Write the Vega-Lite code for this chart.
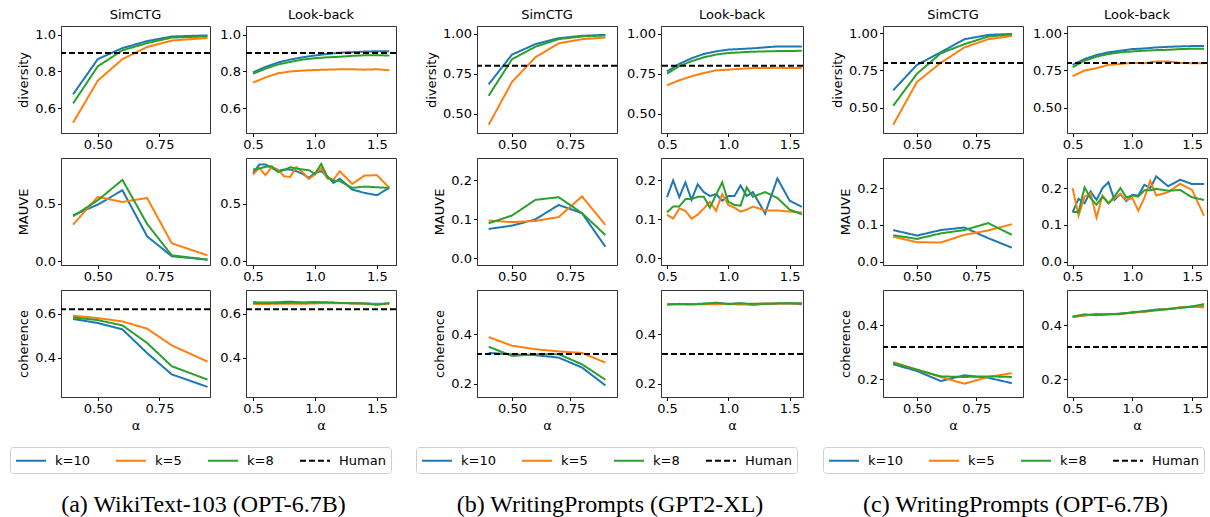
{
"$schema":"https://vega.github.io/schema/vega-lite/v6.json",
"background":"white",
"padding":{"left":9,"top":8,"right":0,"bottom":0},
"datasets":{
"d":[
{"g":"a","p":"S","m":"div","x":0.4,"k=10":0.676,"k=5":0.522,"k=8":0.627},
{"g":"a","p":"S","m":"div","x":0.5,"k=10":0.867,"k=5":0.75,"k=8":0.828},
{"g":"a","p":"S","m":"div","x":0.6,"k=10":0.927,"k=5":0.867,"k=8":0.915},
{"g":"a","p":"S","m":"div","x":0.7,"k=10":0.965,"k=5":0.933,"k=8":0.954},
{"g":"a","p":"S","m":"div","x":0.8,"k=10":0.99,"k=5":0.968,"k=8":0.984},
{"g":"a","p":"S","m":"div","x":0.945,"k=10":0.996,"k=5":0.982,"k=8":0.991},
{"g":"a","p":"L","m":"div","x":0.5,"k=10":0.795,"k=5":0.74,"k=8":0.788},
{"g":"a","p":"L","m":"div","x":0.6,"k=10":0.825,"k=5":0.768,"k=8":0.815},
{"g":"a","p":"L","m":"div","x":0.7,"k=10":0.848,"k=5":0.79,"k=8":0.838},
{"g":"a","p":"L","m":"div","x":0.8,"k=10":0.865,"k=5":0.8,"k=8":0.852},
{"g":"a","p":"L","m":"div","x":0.9,"k=10":0.877,"k=5":0.805,"k=8":0.865},
{"g":"a","p":"L","m":"div","x":1.0,"k=10":0.887,"k=5":0.808,"k=8":0.872},
{"g":"a","p":"L","m":"div","x":1.1,"k=10":0.895,"k=5":0.81,"k=8":0.877},
{"g":"a","p":"L","m":"div","x":1.2,"k=10":0.902,"k=5":0.812,"k=8":0.88},
{"g":"a","p":"L","m":"div","x":1.3,"k=10":0.905,"k=5":0.812,"k=8":0.885},
{"g":"a","p":"L","m":"div","x":1.4,"k=10":0.908,"k=5":0.81,"k=8":0.888},
{"g":"a","p":"L","m":"div","x":1.5,"k=10":0.91,"k=5":0.812,"k=8":0.888},
{"g":"a","p":"L","m":"div","x":1.6,"k=10":0.91,"k=5":0.807,"k=8":0.887},
{"g":"a","p":"S","m":"mau","x":0.4,"k=10":0.401,"k=5":0.32,"k=8":0.392},
{"g":"a","p":"S","m":"mau","x":0.5,"k=10":0.494,"k=5":0.561,"k=8":0.532},
{"g":"a","p":"S","m":"mau","x":0.6,"k=10":0.619,"k=5":0.517,"k=8":0.709},
{"g":"a","p":"S","m":"mau","x":0.7,"k=10":0.218,"k=5":0.552,"k=8":0.326},
{"g":"a","p":"S","m":"mau","x":0.8,"k=10":0.044,"k=5":0.157,"k=8":0.052},
{"g":"a","p":"S","m":"mau","x":0.945,"k=10":0.015,"k=5":0.052,"k=8":0.015},
{"g":"a","p":"L","m":"mau","x":0.5,"k=10":0.77,"k=5":0.756,"k=8":0.8},
{"g":"a","p":"L","m":"mau","x":0.55,"k=10":0.843,"k=5":0.814,"k=8":0.808},
{"g":"a","p":"L","m":"mau","x":0.6,"k=10":0.843,"k=5":0.75,"k=8":0.823},
{"g":"a","p":"L","m":"mau","x":0.65,"k=10":0.814,"k=5":0.82,"k=8":0.828},
{"g":"a","p":"L","m":"mau","x":0.7,"k=10":0.785,"k=5":0.8,"k=8":0.779},
{"g":"a","p":"L","m":"mau","x":0.75,"k=10":0.8,"k=5":0.741,"k=8":0.794},
{"g":"a","p":"L","m":"mau","x":0.8,"k=10":0.8,"k=5":0.735,"k=8":0.82},
{"g":"a","p":"L","m":"mau","x":0.85,"k=10":0.785,"k=5":0.82,"k=8":0.808},
{"g":"a","p":"L","m":"mau","x":0.9,"k=10":0.762,"k=5":0.776,"k=8":0.8},
{"g":"a","p":"L","m":"mau","x":0.95,"k=10":0.727,"k=5":0.718,"k=8":0.794},
{"g":"a","p":"L","m":"mau","x":1.0,"k=10":0.77,"k=5":0.756,"k=8":0.762},
{"g":"a","p":"L","m":"mau","x":1.05,"k=10":0.785,"k=5":0.814,"k=8":0.849},
{"g":"a","p":"L","m":"mau","x":1.1,"k=10":0.741,"k=5":0.72,"k=8":0.733},
{"g":"a","p":"L","m":"mau","x":1.15,"k=10":0.683,"k=5":0.712,"k=8":0.703},
{"g":"a","p":"L","m":"mau","x":1.2,"k=10":0.72,"k=5":0.785,"k=8":0.698},
{"g":"a","p":"L","m":"mau","x":1.3,"k=10":0.625,"k=5":0.674,"k=8":0.64},
{"g":"a","p":"L","m":"mau","x":1.4,"k=10":0.596,"k=5":0.747,"k=8":0.651},
{"g":"a","p":"L","m":"mau","x":1.5,"k=10":0.576,"k=5":0.75,"k=8":0.645},
{"g":"a","p":"L","m":"mau","x":1.6,"k=10":0.64,"k=5":0.64,"k=8":0.64},
{"g":"a","p":"S","m":"coh","x":0.4,"k=10":0.576,"k=5":0.591,"k=8":0.583},
{"g":"a","p":"S","m":"coh","x":0.5,"k=10":0.558,"k=5":0.58,"k=8":0.571},
{"g":"a","p":"S","m":"coh","x":0.6,"k=10":0.529,"k=5":0.565,"k=8":0.547},
{"g":"a","p":"S","m":"coh","x":0.7,"k=10":0.421,"k=5":0.532,"k=8":0.467},
{"g":"a","p":"S","m":"coh","x":0.8,"k=10":0.324,"k=5":0.456,"k=8":0.361},
{"g":"a","p":"S","m":"coh","x":0.945,"k=10":0.267,"k=5":0.382,"k=8":0.3},
{"g":"a","p":"L","m":"coh","x":0.5,"k=10":0.652,"k=5":0.645,"k=8":0.648},
{"g":"a","p":"L","m":"coh","x":0.6,"k=10":0.651,"k=5":0.644,"k=8":0.649},
{"g":"a","p":"L","m":"coh","x":0.7,"k=10":0.652,"k=5":0.646,"k=8":0.648},
{"g":"a","p":"L","m":"coh","x":0.8,"k=10":0.655,"k=5":0.645,"k=8":0.65},
{"g":"a","p":"L","m":"coh","x":0.9,"k=10":0.651,"k=5":0.645,"k=8":0.65},
{"g":"a","p":"L","m":"coh","x":1.0,"k=10":0.653,"k=5":0.647,"k=8":0.651},
{"g":"a","p":"L","m":"coh","x":1.1,"k=10":0.65,"k=5":0.648,"k=8":0.652},
{"g":"a","p":"L","m":"coh","x":1.2,"k=10":0.649,"k=5":0.648,"k=8":0.649},
{"g":"a","p":"L","m":"coh","x":1.3,"k=10":0.648,"k=5":0.647,"k=8":0.648},
{"g":"a","p":"L","m":"coh","x":1.4,"k=10":0.647,"k=5":0.646,"k=8":0.646},
{"g":"a","p":"L","m":"coh","x":1.5,"k=10":0.645,"k=5":0.643,"k=8":0.641},
{"g":"a","p":"L","m":"coh","x":1.6,"k=10":0.646,"k=5":0.644,"k=8":0.649},
{"g":"b","p":"S","m":"div","x":0.4,"k=10":0.684,"k=5":0.432,"k=8":0.613},
{"g":"b","p":"S","m":"div","x":0.5,"k=10":0.869,"k=5":0.699,"k=8":0.84},
{"g":"b","p":"S","m":"div","x":0.6,"k=10":0.934,"k=5":0.852,"k=8":0.918},
{"g":"b","p":"S","m":"div","x":0.7,"k=10":0.971,"k=5":0.939,"k=8":0.965},
{"g":"b","p":"S","m":"div","x":0.8,"k=10":0.986,"k=5":0.965,"k=8":0.982},
{"g":"b","p":"S","m":"div","x":0.9,"k=10":0.992,"k=5":0.975,"k=8":0.988},
{"g":"b","p":"L","m":"div","x":0.5,"k=10":0.764,"k=5":0.678,"k=8":0.75},
{"g":"b","p":"L","m":"div","x":0.6,"k=10":0.811,"k=5":0.709,"k=8":0.797},
{"g":"b","p":"L","m":"div","x":0.7,"k=10":0.846,"k=5":0.734,"k=8":0.828},
{"g":"b","p":"L","m":"div","x":0.8,"k=10":0.873,"k=5":0.754,"k=8":0.852},
{"g":"b","p":"L","m":"div","x":0.9,"k=10":0.889,"k=5":0.771,"k=8":0.869},
{"g":"b","p":"L","m":"div","x":1.0,"k=10":0.9,"k=5":0.775,"k=8":0.879},
{"g":"b","p":"L","m":"div","x":1.1,"k=10":0.904,"k=5":0.781,"k=8":0.883},
{"g":"b","p":"L","m":"div","x":1.2,"k=10":0.908,"k=5":0.785,"k=8":0.887},
{"g":"b","p":"L","m":"div","x":1.3,"k=10":0.914,"k=5":0.785,"k=8":0.889},
{"g":"b","p":"L","m":"div","x":1.4,"k=10":0.92,"k=5":0.787,"k=8":0.891},
{"g":"b","p":"L","m":"div","x":1.5,"k=10":0.92,"k=5":0.785,"k=8":0.891},
{"g":"b","p":"L","m":"div","x":1.6,"k=10":0.92,"k=5":0.785,"k=8":0.893},
{"g":"b","p":"S","m":"mau","x":0.4,"k=10":0.0755,"k=5":0.097,"k=8":0.09},
{"g":"b","p":"S","m":"mau","x":0.5,"k=10":0.084,"k=5":0.093,"k=8":0.11},
{"g":"b","p":"S","m":"mau","x":0.6,"k=10":0.1,"k=5":0.096,"k=8":0.15},
{"g":"b","p":"S","m":"mau","x":0.7,"k=10":0.137,"k=5":0.106,"k=8":0.157},
{"g":"b","p":"S","m":"mau","x":0.8,"k=10":0.116,"k=5":0.159,"k=8":0.116},
{"g":"b","p":"S","m":"mau","x":0.9,"k=10":0.03,"k=5":0.086,"k=8":0.06},
{"g":"b","p":"L","m":"mau","x":0.5,"k=10":0.157,"k=5":0.112,"k=8":0.118},
{"g":"b","p":"L","m":"mau","x":0.55,"k=10":0.2,"k=5":0.102,"k=8":0.133},
{"g":"b","p":"L","m":"mau","x":0.6,"k=10":0.157,"k=5":0.128,"k=8":0.133},
{"g":"b","p":"L","m":"mau","x":0.65,"k=10":0.195,"k=5":0.122,"k=8":0.152},
{"g":"b","p":"L","m":"mau","x":0.7,"k=10":0.15,"k=5":0.102,"k=8":0.152},
{"g":"b","p":"L","m":"mau","x":0.75,"k=10":0.19,"k=5":0.112,"k=8":0.158},
{"g":"b","p":"L","m":"mau","x":0.8,"k=10":0.17,"k=5":0.128,"k=8":0.158},
{"g":"b","p":"L","m":"mau","x":0.85,"k=10":0.16,"k=5":0.145,"k=8":0.13},
{"g":"b","p":"L","m":"mau","x":0.9,"k=10":0.165,"k=5":0.122,"k=8":0.163},
{"g":"b","p":"L","m":"mau","x":0.95,"k=10":0.148,"k=5":0.165,"k=8":0.195},
{"g":"b","p":"L","m":"mau","x":1.0,"k=10":0.16,"k=5":0.137,"k=8":0.145},
{"g":"b","p":"L","m":"mau","x":1.05,"k=10":0.16,"k=5":0.13,"k=8":0.137},
{"g":"b","p":"L","m":"mau","x":1.1,"k=10":0.187,"k=5":0.12,"k=8":0.135},
{"g":"b","p":"L","m":"mau","x":1.15,"k=10":0.16,"k=5":0.125,"k=8":0.182},
{"g":"b","p":"L","m":"mau","x":1.2,"k=10":0.17,"k=5":0.133,"k=8":0.158},
{"g":"b","p":"L","m":"mau","x":1.3,"k=10":0.115,"k=5":0.123,"k=8":0.17},
{"g":"b","p":"L","m":"mau","x":1.4,"k=10":0.205,"k=5":0.123,"k=8":0.155},
{"g":"b","p":"L","m":"mau","x":1.5,"k=10":0.148,"k=5":0.12,"k=8":0.125},
{"g":"b","p":"L","m":"mau","x":1.6,"k=10":0.132,"k=5":0.118,"k=8":0.113},
{"g":"b","p":"S","m":"coh","x":0.4,"k=10":0.324,"k=5":0.388,"k=8":0.349},
{"g":"b","p":"S","m":"coh","x":0.5,"k=10":0.318,"k=5":0.353,"k=8":0.312},
{"g":"b","p":"S","m":"coh","x":0.6,"k=10":0.315,"k=5":0.339,"k=8":0.318},
{"g":"b","p":"S","m":"coh","x":0.7,"k=10":0.305,"k=5":0.33,"k=8":0.319},
{"g":"b","p":"S","m":"coh","x":0.8,"k=10":0.265,"k=5":0.324,"k=8":0.278},
{"g":"b","p":"S","m":"coh","x":0.9,"k=10":0.193,"k=5":0.285,"k=8":0.216},
{"g":"b","p":"L","m":"coh","x":0.5,"k=10":0.52,"k=5":0.521,"k=8":0.519},
{"g":"b","p":"L","m":"coh","x":0.6,"k=10":0.522,"k=5":0.519,"k=8":0.522},
{"g":"b","p":"L","m":"coh","x":0.7,"k=10":0.521,"k=5":0.52,"k=8":0.52},
{"g":"b","p":"L","m":"coh","x":0.8,"k=10":0.523,"k=5":0.521,"k=8":0.522},
{"g":"b","p":"L","m":"coh","x":0.9,"k=10":0.524,"k=5":0.52,"k=8":0.527},
{"g":"b","p":"L","m":"coh","x":1.0,"k=10":0.522,"k=5":0.522,"k=8":0.521},
{"g":"b","p":"L","m":"coh","x":1.1,"k=10":0.524,"k=5":0.519,"k=8":0.524},
{"g":"b","p":"L","m":"coh","x":1.2,"k=10":0.518,"k=5":0.521,"k=8":0.522},
{"g":"b","p":"L","m":"coh","x":1.3,"k=10":0.522,"k=5":0.524,"k=8":0.522},
{"g":"b","p":"L","m":"coh","x":1.4,"k=10":0.523,"k=5":0.523,"k=8":0.524},
{"g":"b","p":"L","m":"coh","x":1.5,"k=10":0.524,"k=5":0.524,"k=8":0.525},
{"g":"b","p":"L","m":"coh","x":1.6,"k=10":0.52,"k=5":0.523,"k=8":0.524},
{"g":"c","p":"S","m":"div","x":0.4,"k=10":0.617,"k=5":0.385,"k=8":0.513},
{"g":"c","p":"S","m":"div","x":0.5,"k=10":0.788,"k=5":0.673,"k=8":0.728},
{"g":"c","p":"S","m":"div","x":0.6,"k=10":0.872,"k=5":0.801,"k=8":0.865},
{"g":"c","p":"S","m":"div","x":0.7,"k=10":0.96,"k=5":0.905,"k=8":0.927},
{"g":"c","p":"S","m":"div","x":0.8,"k=10":0.989,"k=5":0.96,"k=8":0.978},
{"g":"c","p":"S","m":"div","x":0.9,"k=10":0.996,"k=5":0.982,"k=8":0.993},
{"g":"c","p":"L","m":"div","x":0.5,"k=10":0.788,"k=5":0.712,"k=8":0.772},
{"g":"c","p":"L","m":"div","x":0.6,"k=10":0.827,"k=5":0.75,"k=8":0.816},
{"g":"c","p":"L","m":"div","x":0.7,"k=10":0.854,"k=5":0.765,"k=8":0.843},
{"g":"c","p":"L","m":"div","x":0.8,"k=10":0.872,"k=5":0.788,"k=8":0.861},
{"g":"c","p":"L","m":"div","x":0.9,"k=10":0.883,"k=5":0.794,"k=8":0.872},
{"g":"c","p":"L","m":"div","x":1.0,"k=10":0.894,"k=5":0.801,"k=8":0.878},
{"g":"c","p":"L","m":"div","x":1.1,"k=10":0.898,"k=5":0.799,"k=8":0.883},
{"g":"c","p":"L","m":"div","x":1.2,"k=10":0.905,"k=5":0.81,"k=8":0.887},
{"g":"c","p":"L","m":"div","x":1.3,"k=10":0.909,"k=5":0.81,"k=8":0.889},
{"g":"c","p":"L","m":"div","x":1.4,"k=10":0.912,"k=5":0.801,"k=8":0.894},
{"g":"c","p":"L","m":"div","x":1.5,"k=10":0.914,"k=5":0.799,"k=8":0.896},
{"g":"c","p":"L","m":"div","x":1.6,"k=10":0.914,"k=5":0.799,"k=8":0.896},
{"g":"c","p":"S","m":"mau","x":0.4,"k=10":0.086,"k=5":0.068,"k=8":0.072},
{"g":"c","p":"S","m":"mau","x":0.5,"k=10":0.071,"k=5":0.053,"k=8":0.062},
{"g":"c","p":"S","m":"mau","x":0.6,"k=10":0.086,"k=5":0.052,"k=8":0.077},
{"g":"c","p":"S","m":"mau","x":0.7,"k=10":0.093,"k=5":0.073,"k=8":0.086},
{"g":"c","p":"S","m":"mau","x":0.8,"k=10":0.064,"k=5":0.085,"k=8":0.105},
{"g":"c","p":"S","m":"mau","x":0.9,"k=10":0.038,"k=5":0.102,"k=8":0.073},
{"g":"c","p":"L","m":"mau","x":0.5,"k=10":0.135,"k=5":0.2,"k=8":0.135},
{"g":"c","p":"L","m":"mau","x":0.55,"k=10":0.171,"k=5":0.125,"k=8":0.135},
{"g":"c","p":"L","m":"mau","x":0.6,"k=10":0.159,"k=5":0.177,"k=8":0.202},
{"g":"c","p":"L","m":"mau","x":0.65,"k=10":0.191,"k=5":0.186,"k=8":0.173},
{"g":"c","p":"L","m":"mau","x":0.7,"k=10":0.168,"k=5":0.12,"k=8":0.155},
{"g":"c","p":"L","m":"mau","x":0.75,"k=10":0.2,"k=5":0.18,"k=8":0.177},
{"g":"c","p":"L","m":"mau","x":0.8,"k=10":0.216,"k=5":0.159,"k=8":0.159},
{"g":"c","p":"L","m":"mau","x":0.85,"k=10":0.168,"k=5":0.173,"k=8":0.177},
{"g":"c","p":"L","m":"mau","x":0.9,"k=10":0.184,"k=5":0.184,"k=8":0.2},
{"g":"c","p":"L","m":"mau","x":0.95,"k=10":0.165,"k=5":0.168,"k=8":0.175},
{"g":"c","p":"L","m":"mau","x":1.0,"k=10":0.182,"k=5":0.173,"k=8":0.18},
{"g":"c","p":"L","m":"mau","x":1.05,"k=10":0.18,"k=5":0.139,"k=8":0.177},
{"g":"c","p":"L","m":"mau","x":1.1,"k=10":0.209,"k=5":0.173,"k=8":0.194},
{"g":"c","p":"L","m":"mau","x":1.15,"k=10":0.2,"k=5":0.22,"k=8":0.194},
{"g":"c","p":"L","m":"mau","x":1.2,"k=10":0.232,"k=5":0.18,"k=8":0.198},
{"g":"c","p":"L","m":"mau","x":1.3,"k=10":0.205,"k=5":0.189,"k=8":0.193},
{"g":"c","p":"L","m":"mau","x":1.4,"k=10":0.223,"k=5":0.212,"k=8":0.195},
{"g":"c","p":"L","m":"mau","x":1.5,"k=10":0.211,"k=5":0.195,"k=8":0.175},
{"g":"c","p":"L","m":"mau","x":1.6,"k=10":0.211,"k=5":0.125,"k=8":0.168},
{"g":"c","p":"S","m":"coh","x":0.4,"k=10":0.256,"k=5":0.264,"k=8":0.26},
{"g":"c","p":"S","m":"coh","x":0.5,"k=10":0.231,"k=5":0.236,"k=8":0.236},
{"g":"c","p":"S","m":"coh","x":0.6,"k=10":0.194,"k=5":0.209,"k=8":0.211},
{"g":"c","p":"S","m":"coh","x":0.7,"k=10":0.215,"k=5":0.184,"k=8":0.209},
{"g":"c","p":"S","m":"coh","x":0.8,"k=10":0.206,"k=5":0.209,"k=8":0.211},
{"g":"c","p":"S","m":"coh","x":0.9,"k=10":0.186,"k=5":0.223,"k=8":0.209},
{"g":"c","p":"L","m":"coh","x":0.5,"k=10":0.431,"k=5":0.43,"k=8":0.432},
{"g":"c","p":"L","m":"coh","x":0.6,"k=10":0.436,"k=5":0.437,"k=8":0.44},
{"g":"c","p":"L","m":"coh","x":0.7,"k=10":0.441,"k=5":0.438,"k=8":0.437},
{"g":"c","p":"L","m":"coh","x":0.8,"k=10":0.44,"k=5":0.44,"k=8":0.441},
{"g":"c","p":"L","m":"coh","x":0.9,"k=10":0.443,"k=5":0.441,"k=8":0.442},
{"g":"c","p":"L","m":"coh","x":1.0,"k=10":0.446,"k=5":0.447,"k=8":0.448},
{"g":"c","p":"L","m":"coh","x":1.1,"k=10":0.452,"k=5":0.449,"k=8":0.451},
{"g":"c","p":"L","m":"coh","x":1.2,"k=10":0.458,"k=5":0.456,"k=8":0.455},
{"g":"c","p":"L","m":"coh","x":1.3,"k=10":0.46,"k=5":0.46,"k=8":0.459},
{"g":"c","p":"L","m":"coh","x":1.4,"k=10":0.465,"k=5":0.466,"k=8":0.464},
{"g":"c","p":"L","m":"coh","x":1.5,"k=10":0.468,"k=5":0.469,"k=8":0.469},
{"g":"c","p":"L","m":"coh","x":1.6,"k=10":0.47,"k=5":0.466,"k=8":0.478}
],
"h":[
{"g":"a","m":"div","k":"Human","v":0.9},
{"g":"a","m":"coh","k":"Human","v":0.62},
{"g":"b","m":"div","k":"Human","v":0.8},
{"g":"b","m":"coh","k":"Human","v":0.32},
{"g":"c","m":"div","k":"Human","v":0.8},
{"g":"c","m":"coh","k":"Human","v":0.32}
]
},
"hconcat":[
{"title":{"text":"(a) WikiText-103 (OPT-6.7B)","orient":"bottom","font":"Liberation Serif","fontSize":24,"offset":19,"anchor":"middle"},
"columns":2,"spacing":{"row":5,"column":7},
"concat":[
{"width":149,"height":107,"title":"SimCTG","layer":[
{"data":{"name":"d"},"transform":[{"filter":"datum.g=='a'&&datum.p=='S'&&datum.m=='div'"},{"fold":["k=10","k=5","k=8"],"as":["k","v"]}],"mark":{"type":"line","strokeWidth":2,"clip":true},
"encoding":{"x":{"field":"x","type":"quantitative","title":null,"scale":{"domain":[0.351,0.955],"nice":false,"zero":false},"axis":{"values":[0.5,0.75],"format":".2f"}},
"y":{"field":"v","type":"quantitative","title":"diversity","scale":{"domain":[0.466,1.047],"nice":false,"zero":false},"axis":{"values":[0.6,0.8,1.0],"format":".1f"}},
"color":{"field":"k","type":"nominal","title":null,"legend":{"legendX":-51,"legendY":421},"scale":{"domain":["k=10","k=5","k=8","Human"],"range":["#1f77b4","#ff7f0e","#2ca02c","#000000"]}},
"strokeDash":{"field":"k","type":"nominal","title":null,"legend":{"legendX":-51,"legendY":421},"scale":{"domain":["k=10","k=5","k=8","Human"],"range":[[1,0],[1,0],[1,0],[6,3]]}}}},
{"data":{"name":"h"},"transform":[{"filter":"datum.g=='a'&&datum.m=='div'"}],"mark":{"type":"rule","strokeWidth":2},
"encoding":{"y":{"field":"v","type":"quantitative","title":"diversity"},"color":{"field":"k","type":"nominal","title":null},"strokeDash":{"field":"k","type":"nominal","title":null}}}]},
{"width":150,"height":107,"title":"Look-back","layer":[
{"data":{"name":"d"},"transform":[{"filter":"datum.g=='a'&&datum.p=='L'&&datum.m=='div'"},{"fold":["k=10","k=5","k=8"],"as":["k","v"]}],"mark":{"type":"line","strokeWidth":2,"clip":true},
"encoding":{"x":{"field":"x","type":"quantitative","title":null,"scale":{"domain":[0.443,1.654],"nice":false,"zero":false},"axis":{"values":[0.5,1.0,1.5],"format":".1f"}},
"y":{"field":"v","type":"quantitative","title":null,"scale":{"domain":[0.466,1.047],"nice":false,"zero":false},"axis":{"values":[0.6,0.8,1.0],"format":".1f"}},
"color":{"field":"k","type":"nominal","title":null},"strokeDash":{"field":"k","type":"nominal","title":null}}},
{"data":{"name":"h"},"transform":[{"filter":"datum.g=='a'&&datum.m=='div'"}],"mark":{"type":"rule","strokeWidth":2},
"encoding":{"y":{"field":"v","type":"quantitative","title":null},"color":{"field":"k","type":"nominal","title":null},"strokeDash":{"field":"k","type":"nominal","title":null}}}]},
{"width":149,"height":107,"layer":[
{"data":{"name":"d"},"transform":[{"filter":"datum.g=='a'&&datum.p=='S'&&datum.m=='mau'"},{"fold":["k=10","k=5","k=8"],"as":["k","v"]}],"mark":{"type":"line","strokeWidth":2,"clip":true},
"encoding":{"x":{"field":"x","type":"quantitative","title":null,"scale":{"domain":[0.351,0.955],"nice":false,"zero":false},"axis":{"values":[0.5,0.75],"format":".2f"}},
"y":{"field":"v","type":"quantitative","title":"MAUVE","scale":{"domain":[-0.032,0.9],"nice":false,"zero":false},"axis":{"values":[0,0.5],"format":".1f"}},
"color":{"field":"k","type":"nominal","title":null},"strokeDash":{"field":"k","type":"nominal","title":null}}}]},
{"width":150,"height":107,"layer":[
{"data":{"name":"d"},"transform":[{"filter":"datum.g=='a'&&datum.p=='L'&&datum.m=='mau'"},{"fold":["k=10","k=5","k=8"],"as":["k","v"]}],"mark":{"type":"line","strokeWidth":2,"clip":true},
"encoding":{"x":{"field":"x","type":"quantitative","title":null,"scale":{"domain":[0.443,1.654],"nice":false,"zero":false},"axis":{"values":[0.5,1.0,1.5],"format":".1f"}},
"y":{"field":"v","type":"quantitative","title":null,"scale":{"domain":[-0.032,0.9],"nice":false,"zero":false},"axis":{"values":[0,0.5],"format":".1f"}},
"color":{"field":"k","type":"nominal","title":null},"strokeDash":{"field":"k","type":"nominal","title":null}}}]},
{"width":149,"height":107,"layer":[
{"data":{"name":"d"},"transform":[{"filter":"datum.g=='a'&&datum.p=='S'&&datum.m=='coh'"},{"fold":["k=10","k=5","k=8"],"as":["k","v"]}],"mark":{"type":"line","strokeWidth":2,"clip":true},
"encoding":{"x":{"field":"x","type":"quantitative","title":"α","scale":{"domain":[0.351,0.955],"nice":false,"zero":false},"axis":{"values":[0.5,0.75],"format":".2f"}},
"y":{"field":"v","type":"quantitative","title":"coherence","scale":{"domain":[0.221,0.708],"nice":false,"zero":false},"axis":{"values":[0.4,0.6],"format":".1f"}},
"color":{"field":"k","type":"nominal","title":null},"strokeDash":{"field":"k","type":"nominal","title":null}}},
{"data":{"name":"h"},"transform":[{"filter":"datum.g=='a'&&datum.m=='coh'"}],"mark":{"type":"rule","strokeWidth":2},
"encoding":{"y":{"field":"v","type":"quantitative","title":"coherence"},"color":{"field":"k","type":"nominal","title":null},"strokeDash":{"field":"k","type":"nominal","title":null}}}]},
{"width":150,"height":107,"layer":[
{"data":{"name":"d"},"transform":[{"filter":"datum.g=='a'&&datum.p=='L'&&datum.m=='coh'"},{"fold":["k=10","k=5","k=8"],"as":["k","v"]}],"mark":{"type":"line","strokeWidth":2,"clip":true},
"encoding":{"x":{"field":"x","type":"quantitative","title":"α","scale":{"domain":[0.443,1.654],"nice":false,"zero":false},"axis":{"values":[0.5,1.0,1.5],"format":".1f"}},
"y":{"field":"v","type":"quantitative","title":null,"scale":{"domain":[0.221,0.708],"nice":false,"zero":false},"axis":{"values":[0.4,0.6],"format":".1f"}},
"color":{"field":"k","type":"nominal","title":null},"strokeDash":{"field":"k","type":"nominal","title":null}}},
{"data":{"name":"h"},"transform":[{"filter":"datum.g=='a'&&datum.m=='coh'"}],"mark":{"type":"rule","strokeWidth":2},
"encoding":{"y":{"field":"v","type":"quantitative","title":null},"color":{"field":"k","type":"nominal","title":null},"strokeDash":{"field":"k","type":"nominal","title":null}}}]}
]},
{"title":{"text":"(b) WritingPrompts (GPT2-XL)","orient":"bottom","font":"Liberation Serif","fontSize":24,"offset":19,"anchor":"middle"},
"columns":2,"spacing":{"row":5,"column":7},
"concat":[
{"width":140,"height":107,"title":"SimCTG","layer":[
{"data":{"name":"d"},"transform":[{"filter":"datum.g=='b'&&datum.p=='S'&&datum.m=='div'"},{"fold":["k=10","k=5","k=8"],"as":["k","v"]}],"mark":{"type":"line","strokeWidth":2,"clip":true},
"encoding":{"x":{"field":"x","type":"quantitative","title":null,"scale":{"domain":[0.35,0.95],"nice":false,"zero":false},"axis":{"values":[0.5,0.75],"format":".2f"}},
"y":{"field":"v","type":"quantitative","title":"diversity","scale":{"domain":[0.381,1.047],"nice":false,"zero":false},"axis":{"values":[0.5,0.75,1.0],"format":".2f"}},
"color":{"field":"k","type":"nominal","title":null,"legend":{"legendX":-61,"legendY":421}},"strokeDash":{"field":"k","type":"nominal","title":null,"legend":{"legendX":-61,"legendY":421}}}},
{"data":{"name":"h"},"transform":[{"filter":"datum.g=='b'&&datum.m=='div'"}],"mark":{"type":"rule","strokeWidth":2},
"encoding":{"y":{"field":"v","type":"quantitative","title":"diversity"},"color":{"field":"k","type":"nominal","title":null},"strokeDash":{"field":"k","type":"nominal","title":null}}}]},
{"width":142,"height":107,"title":"Look-back","layer":[
{"data":{"name":"d"},"transform":[{"filter":"datum.g=='b'&&datum.p=='L'&&datum.m=='div'"},{"fold":["k=10","k=5","k=8"],"as":["k","v"]}],"mark":{"type":"line","strokeWidth":2,"clip":true},
"encoding":{"x":{"field":"x","type":"quantitative","title":null,"scale":{"domain":[0.451,1.609],"nice":false,"zero":false},"axis":{"values":[0.5,1.0,1.5],"format":".1f"}},
"y":{"field":"v","type":"quantitative","title":null,"scale":{"domain":[0.381,1.047],"nice":false,"zero":false},"axis":{"values":[0.5,0.75,1.0],"format":".2f"}},
"color":{"field":"k","type":"nominal","title":null},"strokeDash":{"field":"k","type":"nominal","title":null}}},
{"data":{"name":"h"},"transform":[{"filter":"datum.g=='b'&&datum.m=='div'"}],"mark":{"type":"rule","strokeWidth":2},
"encoding":{"y":{"field":"v","type":"quantitative","title":null},"color":{"field":"k","type":"nominal","title":null},"strokeDash":{"field":"k","type":"nominal","title":null}}}]},
{"width":140,"height":107,"layer":[
{"data":{"name":"d"},"transform":[{"filter":"datum.g=='b'&&datum.p=='S'&&datum.m=='mau'"},{"fold":["k=10","k=5","k=8"],"as":["k","v"]}],"mark":{"type":"line","strokeWidth":2,"clip":true},
"encoding":{"x":{"field":"x","type":"quantitative","title":null,"scale":{"domain":[0.35,0.95],"nice":false,"zero":false},"axis":{"values":[0.5,0.75],"format":".2f"}},
"y":{"field":"v","type":"quantitative","title":"MAUVE","scale":{"domain":[-0.017,0.2575],"nice":false,"zero":false},"axis":{"values":[0,0.1,0.2],"format":".1f"}},
"color":{"field":"k","type":"nominal","title":null},"strokeDash":{"field":"k","type":"nominal","title":null}}}]},
{"width":142,"height":107,"layer":[
{"data":{"name":"d"},"transform":[{"filter":"datum.g=='b'&&datum.p=='L'&&datum.m=='mau'"},{"fold":["k=10","k=5","k=8"],"as":["k","v"]}],"mark":{"type":"line","strokeWidth":2,"clip":true},
"encoding":{"x":{"field":"x","type":"quantitative","title":null,"scale":{"domain":[0.451,1.609],"nice":false,"zero":false},"axis":{"values":[0.5,1.0,1.5],"format":".1f"}},
"y":{"field":"v","type":"quantitative","title":null,"scale":{"domain":[-0.017,0.2575],"nice":false,"zero":false},"axis":{"values":[0,0.1,0.2],"format":".1f"}},
"color":{"field":"k","type":"nominal","title":null},"strokeDash":{"field":"k","type":"nominal","title":null}}}]},
{"width":140,"height":107,"layer":[
{"data":{"name":"d"},"transform":[{"filter":"datum.g=='b'&&datum.p=='S'&&datum.m=='coh'"},{"fold":["k=10","k=5","k=8"],"as":["k","v"]}],"mark":{"type":"line","strokeWidth":2,"clip":true},
"encoding":{"x":{"field":"x","type":"quantitative","title":"α","scale":{"domain":[0.35,0.95],"nice":false,"zero":false},"axis":{"values":[0.5,0.75],"format":".2f"}},
"y":{"field":"v","type":"quantitative","title":"coherence","scale":{"domain":[0.146,0.578],"nice":false,"zero":false},"axis":{"values":[0.2,0.4],"format":".1f"}},
"color":{"field":"k","type":"nominal","title":null},"strokeDash":{"field":"k","type":"nominal","title":null}}},
{"data":{"name":"h"},"transform":[{"filter":"datum.g=='b'&&datum.m=='coh'"}],"mark":{"type":"rule","strokeWidth":2},
"encoding":{"y":{"field":"v","type":"quantitative","title":"coherence"},"color":{"field":"k","type":"nominal","title":null},"strokeDash":{"field":"k","type":"nominal","title":null}}}]},
{"width":142,"height":107,"layer":[
{"data":{"name":"d"},"transform":[{"filter":"datum.g=='b'&&datum.p=='L'&&datum.m=='coh'"},{"fold":["k=10","k=5","k=8"],"as":["k","v"]}],"mark":{"type":"line","strokeWidth":2,"clip":true},
"encoding":{"x":{"field":"x","type":"quantitative","title":"α","scale":{"domain":[0.451,1.609],"nice":false,"zero":false},"axis":{"values":[0.5,1.0,1.5],"format":".1f"}},
"y":{"field":"v","type":"quantitative","title":null,"scale":{"domain":[0.146,0.578],"nice":false,"zero":false},"axis":{"values":[0.2,0.4],"format":".1f"}},
"color":{"field":"k","type":"nominal","title":null},"strokeDash":{"field":"k","type":"nominal","title":null}}},
{"data":{"name":"h"},"transform":[{"filter":"datum.g=='b'&&datum.m=='coh'"}],"mark":{"type":"rule","strokeWidth":2},
"encoding":{"y":{"field":"v","type":"quantitative","title":null},"color":{"field":"k","type":"nominal","title":null},"strokeDash":{"field":"k","type":"nominal","title":null}}}]}
]},
{"title":{"text":"(c) WritingPrompts (OPT-6.7B)","orient":"bottom","font":"Liberation Serif","fontSize":24,"offset":19,"anchor":"middle"},
"columns":2,"spacing":{"row":5,"column":7},
"concat":[
{"width":140,"height":107,"title":"SimCTG","layer":[
{"data":{"name":"d"},"transform":[{"filter":"datum.g=='c'&&datum.p=='S'&&datum.m=='div'"},{"fold":["k=10","k=5","k=8"],"as":["k","v"]}],"mark":{"type":"line","strokeWidth":2,"clip":true},
"encoding":{"x":{"field":"x","type":"quantitative","title":null,"scale":{"domain":[0.357,0.947],"nice":false,"zero":false},"axis":{"values":[0.5,0.75],"format":".2f"}},
"y":{"field":"v","type":"quantitative","title":"diversity","scale":{"domain":[0.33,1.049],"nice":false,"zero":false},"axis":{"values":[0.5,0.75,1.0],"format":".2f"}},
"color":{"field":"k","type":"nominal","title":null,"legend":{"legendX":-60,"legendY":421}},"strokeDash":{"field":"k","type":"nominal","title":null,"legend":{"legendX":-60,"legendY":421}}}},
{"data":{"name":"h"},"transform":[{"filter":"datum.g=='c'&&datum.m=='div'"}],"mark":{"type":"rule","strokeWidth":2},
"encoding":{"y":{"field":"v","type":"quantitative","title":"diversity"},"color":{"field":"k","type":"nominal","title":null},"strokeDash":{"field":"k","type":"nominal","title":null}}}]},
{"width":140,"height":107,"title":"Look-back","layer":[
{"data":{"name":"d"},"transform":[{"filter":"datum.g=='c'&&datum.p=='L'&&datum.m=='div'"},{"fold":["k=10","k=5","k=8"],"as":["k","v"]}],"mark":{"type":"line","strokeWidth":2,"clip":true},
"encoding":{"x":{"field":"x","type":"quantitative","title":null,"scale":{"domain":[0.453,1.625],"nice":false,"zero":false},"axis":{"values":[0.5,1.0,1.5],"format":".1f"}},
"y":{"field":"v","type":"quantitative","title":null,"scale":{"domain":[0.33,1.049],"nice":false,"zero":false},"axis":{"values":[0.5,0.75,1.0],"format":".2f"}},
"color":{"field":"k","type":"nominal","title":null},"strokeDash":{"field":"k","type":"nominal","title":null}}},
{"data":{"name":"h"},"transform":[{"filter":"datum.g=='c'&&datum.m=='div'"}],"mark":{"type":"rule","strokeWidth":2},
"encoding":{"y":{"field":"v","type":"quantitative","title":null},"color":{"field":"k","type":"nominal","title":null},"strokeDash":{"field":"k","type":"nominal","title":null}}}]},
{"width":140,"height":107,"layer":[
{"data":{"name":"d"},"transform":[{"filter":"datum.g=='c'&&datum.p=='S'&&datum.m=='mau'"},{"fold":["k=10","k=5","k=8"],"as":["k","v"]}],"mark":{"type":"line","strokeWidth":2,"clip":true},
"encoding":{"x":{"field":"x","type":"quantitative","title":null,"scale":{"domain":[0.357,0.947],"nice":false,"zero":false},"axis":{"values":[0.5,0.75],"format":".2f"}},
"y":{"field":"v","type":"quantitative","title":"MAUVE","scale":{"domain":[-0.009,0.282],"nice":false,"zero":false},"axis":{"values":[0,0.1,0.2],"format":".1f"}},
"color":{"field":"k","type":"nominal","title":null},"strokeDash":{"field":"k","type":"nominal","title":null}}}]},
{"width":140,"height":107,"layer":[
{"data":{"name":"d"},"transform":[{"filter":"datum.g=='c'&&datum.p=='L'&&datum.m=='mau'"},{"fold":["k=10","k=5","k=8"],"as":["k","v"]}],"mark":{"type":"line","strokeWidth":2,"clip":true},
"encoding":{"x":{"field":"x","type":"quantitative","title":null,"scale":{"domain":[0.453,1.625],"nice":false,"zero":false},"axis":{"values":[0.5,1.0,1.5],"format":".1f"}},
"y":{"field":"v","type":"quantitative","title":null,"scale":{"domain":[-0.009,0.282],"nice":false,"zero":false},"axis":{"values":[0,0.1,0.2],"format":".1f"}},
"color":{"field":"k","type":"nominal","title":null},"strokeDash":{"field":"k","type":"nominal","title":null}}}]},
{"width":140,"height":107,"layer":[
{"data":{"name":"d"},"transform":[{"filter":"datum.g=='c'&&datum.p=='S'&&datum.m=='coh'"},{"fold":["k=10","k=5","k=8"],"as":["k","v"]}],"mark":{"type":"line","strokeWidth":2,"clip":true},
"encoding":{"x":{"field":"x","type":"quantitative","title":"α","scale":{"domain":[0.357,0.947],"nice":false,"zero":false},"axis":{"values":[0.5,0.75],"format":".2f"}},
"y":{"field":"v","type":"quantitative","title":"coherence","scale":{"domain":[0.135,0.53],"nice":false,"zero":false},"axis":{"values":[0.2,0.4],"format":".1f"}},
"color":{"field":"k","type":"nominal","title":null},"strokeDash":{"field":"k","type":"nominal","title":null}}},
{"data":{"name":"h"},"transform":[{"filter":"datum.g=='c'&&datum.m=='coh'"}],"mark":{"type":"rule","strokeWidth":2},
"encoding":{"y":{"field":"v","type":"quantitative","title":"coherence"},"color":{"field":"k","type":"nominal","title":null},"strokeDash":{"field":"k","type":"nominal","title":null}}}]},
{"width":140,"height":107,"layer":[
{"data":{"name":"d"},"transform":[{"filter":"datum.g=='c'&&datum.p=='L'&&datum.m=='coh'"},{"fold":["k=10","k=5","k=8"],"as":["k","v"]}],"mark":{"type":"line","strokeWidth":2,"clip":true},
"encoding":{"x":{"field":"x","type":"quantitative","title":"α","scale":{"domain":[0.453,1.625],"nice":false,"zero":false},"axis":{"values":[0.5,1.0,1.5],"format":".1f"}},
"y":{"field":"v","type":"quantitative","title":null,"scale":{"domain":[0.135,0.53],"nice":false,"zero":false},"axis":{"values":[0.2,0.4],"format":".1f"}},
"color":{"field":"k","type":"nominal","title":null},"strokeDash":{"field":"k","type":"nominal","title":null}}},
{"data":{"name":"h"},"transform":[{"filter":"datum.g=='c'&&datum.m=='coh'"}],"mark":{"type":"rule","strokeWidth":2},
"encoding":{"y":{"field":"v","type":"quantitative","title":null},"color":{"field":"k","type":"nominal","title":null},"strokeDash":{"field":"k","type":"nominal","title":null}}}]}
]}
],
"spacing":17,
"resolve":{"legend":{"color":"independent","strokeDash":"independent"}},
"config":{
"view":{"stroke":"#333333","strokeWidth":1},
"axis":{"grid":false,"labelFont":"DejaVu Sans","labelFontSize":13,"labelColor":"black","tickColor":"black","tickSize":3.5,"domainColor":"#333333","titleFont":"DejaVu Sans","titleFontSize":13,"titleFontWeight":"normal","titleColor":"black","labelPadding":2,"titlePadding":4,"labelFlush":false,"labelOverlap":false},
"title":{"font":"DejaVu Sans","fontSize":13,"fontWeight":"normal","color":"black","offset":4},
"legend":{"orient":"none","direction":"horizontal","labelFont":"DejaVu Sans","labelFontSize":13,"labelColor":"black","symbolSize":225,"symbolStrokeWidth":2,"symbolType":"M-1,0H3","columnPadding":22,"labelOffset":23,"strokeColor":"#d0d0d0","padding":5,"cornerRadius":3}
}
}
